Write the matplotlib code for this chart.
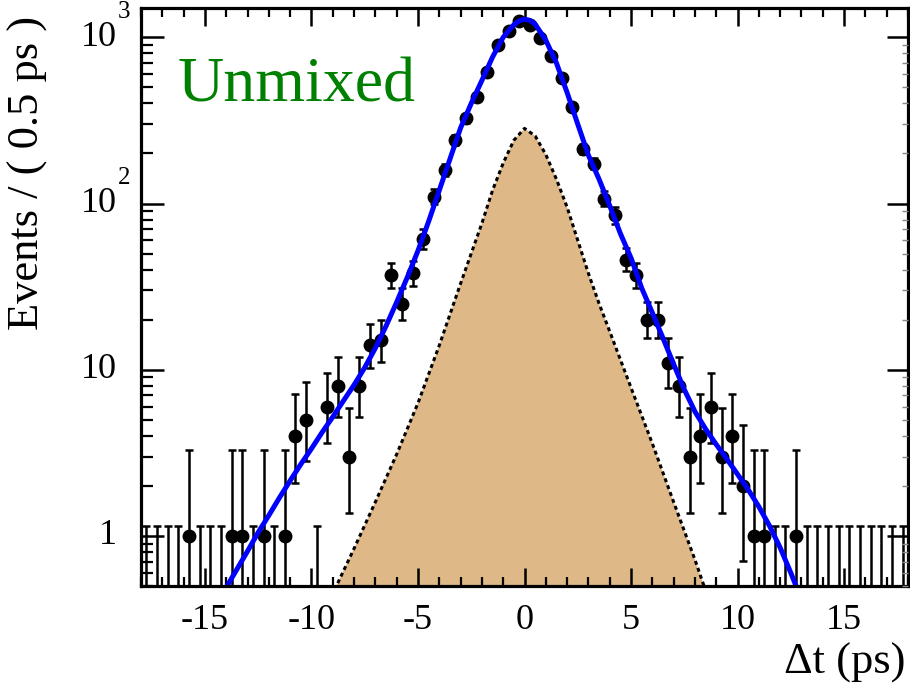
import math
import matplotlib
matplotlib.use("Agg")
import matplotlib.pyplot as plt
from matplotlib.ticker import FixedLocator, NullFormatter

plt.rcParams["font.family"] = ["Liberation Serif", "DejaVu Serif"]
plt.rcParams["mathtext.fontset"] = "stix"
plt.rcParams["axes.unicode_minus"] = False

# ---- data: events per 0.5 ps bin ----
bin_centers = [-17.75 + 0.5 * i for i in range(72)]
counts_neg = [0, 0, 0, 0, 1, 0, 0, 0, 1, 1, 0, 1, 0, 1, 4, 5, 0, 6,
              8, 3, 8, 14, 15, 37, 25, 38, 61, 110, 160, 240, 325, 440,
              622, 904, 1087, 1250]
counts_pos = [1190, 993, 767, 568, 383, 212, 174, 107, 85, 46, 37, 20,
              20, 11, 8, 3, 4, 6, 3, 4, 2, 1, 1, 0, 0, 1, 0, 0, 0, 0,
              0, 0, 0, 0, 0, 0]
counts = counts_neg + counts_pos

# ---- total fit curve ----
fit_t = [-14.4, -14.0, -13.5, -13.0, -12.5, -12.0, -11.5, -11.0, -10.5,
         -10.0, -9.5, -9.0, -8.5, -8.0, -7.5, -7.0, -6.5, -6.0, -5.5,
         -5.0, -4.5, -4.0, -3.5, -3.0, -2.5, -2.0, -1.5, -1.0, -0.5,
         -0.25, 0.0, 0.25, 0.5, 1.0, 1.5, 2.0, 2.5, 3.0, 3.5, 4.0, 4.5,
         5.0, 5.5, 6.0, 6.5, 7.0, 7.5, 8.0, 8.5, 9.0, 9.5, 10.0, 10.5,
         11.0, 11.5, 12.0, 12.5, 12.8, 13.1]
fit_y = [0.40, 0.49, 0.63, 0.81, 1.05, 1.33, 1.7, 2.15, 2.7,
         3.35, 4.2, 5.2, 6.5, 8.1, 10.3, 13.5, 18.3, 25.5, 36.0,
         52.0, 78.0, 120.0, 185.0, 285.0, 400.0, 550.0, 760.0, 1000.0, 1190.0,
         1255.0, 1285.0, 1265.0, 1200.0, 960.0, 700.0, 465.0, 300.0, 195.0, 140.0, 97.0, 66.0,
         47.0, 31.0, 22.0, 15.5, 10.8, 7.6, 5.6, 4.4, 3.55, 2.9, 2.35, 1.9,
         1.5, 1.15, 0.85, 0.6, 0.48, 0.39]

# ---- background component ----
bkg_t = [-9.0, -8.83, -8.0, -7.0, -6.0, -5.0, -4.0, -3.0, -2.0, -1.5, -1.0,
         -0.5, 0.0, 0.5, 1.0, 1.5, 2.0, 2.5, 3.0, 3.5, 4.0, 5.0, 6.0,
         7.0, 8.0, 8.25, 8.5]
bkg_y = [0.43, 0.5, 0.84, 1.6, 3.1, 6.3, 14.0, 33.0, 76.0, 120.0, 175.0,
         240.0, 283.0, 255.0, 197.0, 140.0, 95.0, 60.0, 38.0, 25.0, 17.0, 7.8, 3.6,
         1.6, 0.72, 0.58, 0.47]

xticks = [-15, -10, -5, 0, 5, 10, 15]
xtick_labels = ["-15", "-10", "-5", "0", "5", "10", "15"]


def pois_cdf(n, mu):
    if n < 0:
        return 0.0
    s = 0.0
    for k in range(n + 1):
        s += math.exp(-mu + k * math.log(mu) - math.lgamma(k + 1))
    return min(s, 1.0)


def solve(n, target):
    lo, hi = 1e-9, n + 20 * math.sqrt(n + 1) + 20
    for _ in range(80):
        mid = 0.5 * (lo + hi)
        if pois_cdf(n, mid) > target:
            lo = mid
        else:
            hi = mid
    return 0.5 * (lo + hi)


# Poisson 68% intervals: one-sided upper limit for empty bins, central otherwise
alpha = 0.158655
err_lo, err_hi = [], []
for n in counts:
    if n == 0:
        err_lo.append(0.0)
        err_hi.append(solve(0, 2 * alpha))
    else:
        err_lo.append(solve(n - 1, 1 - alpha))
        err_hi.append(solve(n, alpha))

fig = plt.figure(figsize=(9.1, 6.85), dpi=100)
W, H = 910, 685
ax = fig.add_axes([141 / W, 1 - 586 / H, (908 - 141) / W, (586 - 8) / H])
ax.set_yscale("log")
ax.set_xlim(-18, 18)
ax.set_ylim(0.5, 1500)

# background component
ax.fill_between(bkg_t, bkg_y, 1e-3, color="#deb887", lw=0, zorder=1)
ax.plot(bkg_t, bkg_y, color="black", lw=2.2, ls=(0, (1.3, 1.1)), zorder=2)

# data points with Poisson errors
for x, n, lo, hi in zip(bin_centers, counts, err_lo, err_hi):
    ylo = max(lo, 1e-3)
    ax.plot([x, x], [ylo, hi], color="black", lw=1.8, zorder=3, solid_capstyle="butt")
    ax.plot([x], [hi], marker="_", ms=6, mew=1.8, color="black", zorder=3)
    if lo > 0:
        ax.plot([x], [lo], marker="_", ms=6, mew=1.8, color="black", zorder=3)
xs = [x for x, n in zip(bin_centers, counts) if n > 0]
ys = [n for n in counts if n > 0]
ax.plot(xs, ys, "o", ms=9, color="black", zorder=4)

# fit curve
ax.plot(fit_t, fit_y, color="#0000ff", lw=3.6, zorder=5, solid_capstyle="butt")

# axes styling
for s in ax.spines.values():
    s.set_linewidth(2.3)
    s.set_zorder(10)
ax.xaxis.set_major_locator(FixedLocator(xticks))
ax.xaxis.set_minor_locator(FixedLocator(range(-18, 19)))
ax.set_xticklabels(xtick_labels, fontsize=26)
ax.tick_params(axis="x", which="major", direction="in", length=13, width=1.8,
               top=True, bottom=True, pad=13)
ax.tick_params(axis="x", which="minor", direction="in", length=6.5, width=1.6,
               top=True, bottom=True)

major_y = [1, 10, 100, 1000]
minor_y = [v * 10 ** d for d in range(-1, 4) for v in range(2, 10)
           if 0.5 <= v * 10 ** d <= 1500]
ax.yaxis.set_major_locator(FixedLocator(major_y))
ax.yaxis.set_minor_locator(FixedLocator(minor_y))
ax.yaxis.set_major_formatter(NullFormatter())
ax.yaxis.set_minor_formatter(NullFormatter())
ax.tick_params(axis="y", which="major", direction="in", length=16.5, width=1.8,
               left=True, right=False)
ax.tick_params(axis="y", which="minor", direction="in", length=8.5, width=1.6,
               left=True, right=False)

# right-hand y ticks: shorter, lighter minor ticks
axr = ax.twinx()
axr.set_yscale("log")
axr.set_ylim(ax.get_ylim())
for s in axr.spines.values():
    s.set_visible(False)
axr.yaxis.set_major_locator(FixedLocator(major_y))
axr.yaxis.set_minor_locator(FixedLocator(minor_y))
axr.yaxis.set_major_formatter(NullFormatter())
axr.yaxis.set_minor_formatter(NullFormatter())
axr.tick_params(axis="y", which="major", direction="in", length=15, width=1.8)
axr.tick_params(axis="y", which="minor", direction="in", length=4, width=1.0,
                color="#888888")

# y tick labels (base "10" aligned, exponent hanging to the right)
ytr = ax.get_yaxis_transform()
xoff = -24 / (908 - 141)
ax.text(xoff, 1, "1", transform=ytr, ha="right", va="center", fontsize=26)
ax.text(xoff, 10, "10", transform=ytr, ha="right", va="center", fontsize=26)
for v, e in [(100, "2"), (1000, "3")]:
    ax.text(xoff, v, "10", transform=ytr, ha="right", va="center", fontsize=26)
    ax.text(xoff + 1 / (908 - 141), v * 1.22, e, transform=ytr, ha="left",
            va="bottom", fontsize=18)

fig.text(28 / W, 1 - 16 / H, "Events / ( 0.5 ps )", rotation=90, ha="center",
         va="top", fontsize=32)
fig.text(906 / W, 1 - 674 / H, "\u0394t (ps)", ha="right", va="baseline",
         fontsize=32)
ax.text(178 / W, 1 - 102 / H, "Unmixed", transform=fig.transFigure,
        color="#008000", fontsize=46, ha="left", va="baseline")

fig.savefig("out.png", dpi=100)
